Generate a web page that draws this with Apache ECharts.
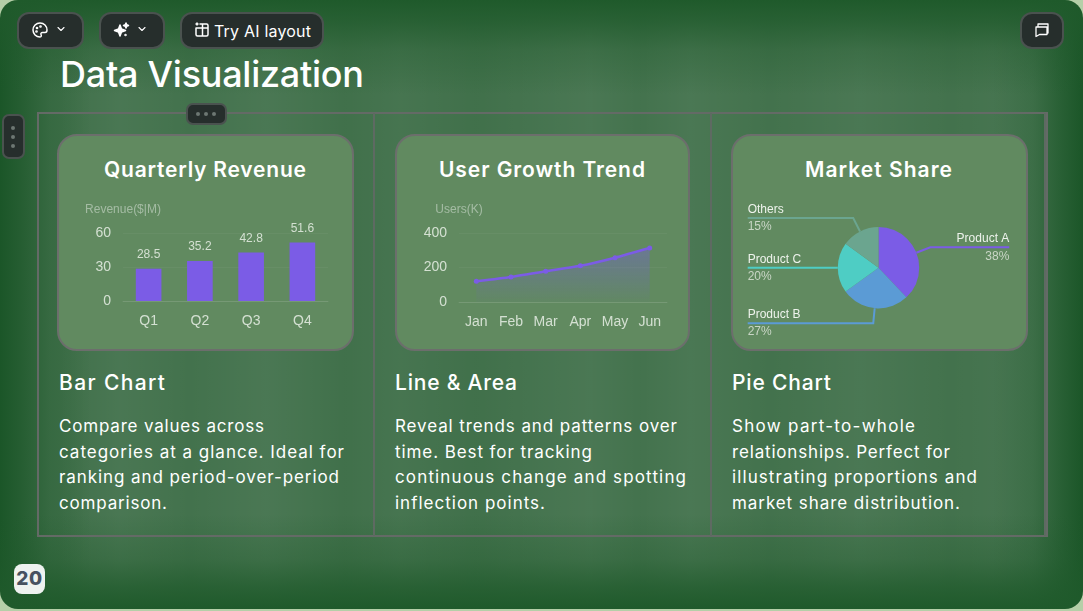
<!DOCTYPE html>
<html><head><meta charset="utf-8">
<script src="https://cdn.jsdelivr.net/npm/echarts@6/dist/echarts.min.js"></script>
<style>
html,body{margin:0;padding:0;width:1083px;height:611px;overflow:hidden;background:#b5cfa8;font-family:Inter,"Open Sans",sans-serif;color:#fff}
#slide{position:absolute;left:0;top:0;width:1083px;height:609px;border-radius:18px;overflow:hidden;
background:
linear-gradient(to bottom,rgba(31,90,43,1) 0,rgba(31,90,43,.75) 22px,rgba(31,90,43,.32) 50px,rgba(31,90,43,0) 95px),
linear-gradient(to top,rgba(31,90,43,1) 0,rgba(31,90,43,.75) 22px,rgba(31,90,43,.32) 50px,rgba(31,90,43,0) 95px),
linear-gradient(to right,rgba(27,86,40,1) 0,rgba(27,86,40,.7) 22px,rgba(27,86,40,.25) 50px,rgba(27,86,40,0) 90px),
linear-gradient(to left,rgba(27,86,40,1) 0,rgba(27,86,40,.7) 22px,rgba(27,86,40,.25) 50px,rgba(27,86,40,0) 90px),
linear-gradient(to right,rgba(255,255,255,0) 60px,rgba(255,255,255,.05) 120px,rgba(255,255,255,.015) 190px,rgba(255,255,255,.055) 266px,rgba(255,255,255,.005) 345px,rgba(255,255,255,.035) 400px,rgba(255,255,255,.005) 476px,rgba(255,255,255,.055) 590px,rgba(255,255,255,.02) 640px,rgba(255,255,255,.055) 690px,rgba(255,255,255,.015) 770px,rgba(255,255,255,.055) 860px,rgba(255,255,255,.015) 950px,rgba(255,255,255,.04) 1010px),
#40704a;}
.line{position:absolute;white-space:nowrap;line-height:1}
.card{position:absolute;top:134px;height:213px;background:#618a60;border:2px solid #6c6e6c;border-radius:20px;box-sizing:content-box}
.chart{position:absolute;top:134px;height:217px}
.cell{position:absolute;box-sizing:border-box;border:0 solid #646a66}
.pill{position:absolute;top:12px;height:37px;background:#262e2c;border:2px solid #4a524f;border-radius:12px;box-sizing:border-box}
.pill svg{position:absolute;fill:none;stroke:#fff;stroke-width:1.5;stroke-linecap:round;stroke-linejoin:round}
.dot{position:absolute;width:4px;height:4px;border-radius:50%;background:#6d7773}
</style></head><body>
<div id="slide"></div>
<script>
// ---- data
const quarters = ['Q1','Q2','Q3','Q4'];
const revenue = [28.5,35.2,42.8,51.6];
const months = ['Jan','Feb','Mar','Apr','May','Jun'];
const users = [120,145,178,210,257,313];
const shareNames = ['Product A','Product B','Product C','Others'];
const shareValues = [38,27,20,15];
const shareColors = ['#7b5ce6','#5b9bd5','#4ecdc4','#6ba58f'];
const heading = 'Data Visualization';
const chartTitles = ['Quarterly Revenue','User Growth Trend','Market Share'];
const captions = ['Bar Chart','Line & Area','Pie Chart'];
const bodies = [
 ['Compare values across','categories at a glance. Ideal for','ranking and period-over-period','comparison.'],
 ['Reveal trends and patterns over','time. Best for tracking','continuous change and spotting','inflection points.'],
 ['Show part-to-whole','relationships. Perfect for','illustrating proportions and','market share distribution.']
];
// ---- layout
const slide = document.getElementById('slide');
function el(cls,css,html){const d=document.createElement('div');d.className=cls;d.style.cssText=css;if(html)d.innerHTML=html;slide.appendChild(d);return d;}
function text(str,x,yc,size,weight,target){
  const d=el('line',`left:${x}px;top:${yc-size/2}px;font-size:${size}px;font-weight:${weight}`);
  d.textContent=str;
  const w=d.getBoundingClientRect().width;
  d.style.letterSpacing=((target-w)/(str.length-1))+'px';
  return d;
}
// grid
el('cell','left:37px;top:112px;width:1011px;height:425px;border-width:2px');
el('cell','left:373px;top:113px;width:2px;height:423px;border-left-width:2px;border-color:#5e6a62');
el('cell','left:710px;top:113px;width:2px;height:423px;border-left-width:2px;border-color:#5e6a62');
el('cell','left:1044px;top:113px;width:2px;height:423px;border-left-width:2px;border-color:#5e6a62');
// cards
const cardX=[[57,297],[395,295],[731,297]];
cardX.forEach(c=>el('card',`left:${c[0]}px;width:${c[1]-4}px`));
// toolbar
el('pill','left:17px;width:67px',`<svg style="left:12px;top:7px" width="18" height="18" viewBox="0 0 18 18"><path d="M9 2a7 7 0 1 0 0 14c1.500 0 1.500-1.500 1-2.500s.3-2 1.500-2H14c1.500 0 2-1 2-2.500C16 5 13 2 9 2z"/><circle cx="6" cy="7" r=".6"/><circle cx="9.500" cy="5.500" r=".6"/><circle cx="5.500" cy="10.500" r=".6"/></svg><svg style="left:36px;top:9px" width="12" height="12" viewBox="0 0 12 12"><path d="M3 4.500l3 3 3-3" stroke-width="1.100"/></svg>`);
el('pill','left:99px;width:66px',`<svg style="left:12px;top:7px" width="18" height="18" viewBox="0 0 18 18"><path fill="#fff" d="M7 4l1.500 4 4 1.500-4 1.500L7 15l-1.500-4-4-1.500 4-1.500z"/><path fill="#fff" d="M13 2l.7 1.800 1.800.7-1.800.7-.7 1.800-.7-1.800-1.800-.7 1.800-.7z"/><circle cx="12.500" cy="14" r=".5"/></svg><svg style="left:35px;top:9px" width="12" height="12" viewBox="0 0 12 12"><path d="M3 4.500l3 3 3-3" stroke-width="1.100"/></svg>`);
el('pill','left:180px;width:144px',`<svg style="left:11px;top:7px" width="18" height="18" viewBox="0 0 18 18"><path d="M7 3h6.500A1.500 1.500 0 0 1 15 4.500v9a1.500 1.500 0 0 1-1.500 1.500h-9A1.500 1.500 0 0 1 3 13.500V7h12M9.500 3v12M3 3h2M4 2v2"/></svg>`);
text('Try AI layout',214,31,16,400,97);
el('pill','left:1020px;width:44px',`<svg style="left:11px;top:8px" width="18" height="18" viewBox="0 0 18 18"><path d="M4 5V2h10v9h-1M2 5h11v7.500H5.500l-3.500 2z" transform="translate(1 0)" stroke-width="1.300"/></svg>`);
// handles
el('pill','left:2px;top:114px;width:23px;height:45px;border-radius:7px');
el('pill','left:186px;top:103px;width:41px;height:22px;border-radius:7px');
[128,137,146].forEach(y=>el('dot',`left:11px;top:${y-2}px`));
[198,206,214].forEach(x=>el('dot',`left:${x-2}px;top:112px`));
// page number
const pn=el('line','left:14px;top:564px;width:31px;height:30px;line-height:30px;text-align:center;background:#eef2f0;border-radius:8px;font-size:19px;font-weight:800;color:#475160;letter-spacing:.5px');
pn.textContent='20';
// texts
text(heading,60,74,36,500,304);
const titleSpan=[[104,202],[439,206],[805,147]];
chartTitles.forEach((t,i)=>text(t,titleSpan[i][0],169.5,21,600,titleSpan[i][1]));
const capSpan=[[59,106],[395,122],[732,99]];
captions.forEach((t,i)=>text(t,capSpan[i][0],382.5,21,500,capSpan[i][1]));
const bodyX=[59,395,732];
const bodyW=[[205,285,280,108],[282,197,291,150],[183,218,245,228]];
const bodyY=[426,452,477,503];
bodies.forEach((col,i)=>col.forEach((t,j)=>text(t,bodyX[i],bodyY[j],17,400,bodyW[i][j])));
// charts
const FF='Liberation Sans, Arial, sans-serif';
const axisLab={color:'#d4e0d2',fontSize:14,fontFamily:FF};
const nameStyle={color:'rgba(255,255,255,.42)',fontSize:12,fontFamily:FF};
const split={show:true,lineStyle:{color:'rgba(255,255,255,.04)',width:1}};
function mk(x,w){const d=el('chart',`left:${x}px;width:${w}px`);return echarts.init(d,null,{renderer:'canvas'});}
const ax={axisLine:{show:true,lineStyle:{color:'rgba(255,255,255,.1)'}},axisTick:{show:false},axisLabel:{...axisLab,margin:13}};
mk(57,297).setOption({animation:false,
 grid:{left:66,right:26,top:99,bottom:50},
 xAxis:{type:'category',data:quarters,...ax},
 yAxis:{type:'value',min:0,max:60,interval:30,name:'Revenue($|M)',nameGap:17,nameTextStyle:nameStyle,
   axisLine:{show:false},axisTick:{show:false},axisLabel:{...axisLab,margin:12},splitLine:split},
 series:[{type:'bar',data:revenue,barWidth:'50%',itemStyle:{color:'#7b5ce6'},
   label:{show:true,position:'top',distance:8,color:'#d4e0d2',fontSize:12,fontFamily:FF}}]
});
mk(395,296).setOption({animation:false,
 grid:{left:64,right:24,top:99,bottom:49},
 xAxis:{type:'category',data:months,...ax},
 yAxis:{type:'value',min:0,max:400,interval:200,name:'Users(K)',nameGap:17,nameTextStyle:nameStyle,
   axisLine:{show:false},axisTick:{show:false},axisLabel:{...axisLab,margin:12},splitLine:split},
 series:[{type:'line',data:users,smooth:.2,symbol:'circle',symbolSize:5,
   lineStyle:{color:'#7b5ce6',width:2.5},itemStyle:{color:'#7b5ce6'},
   areaStyle:{color:new echarts.graphic.LinearGradient(0,0,0,1,[{offset:0,color:'rgba(123,92,230,.55)'},{offset:1,color:'rgba(123,92,230,.04)'}])}}]
});
const pie=mk(733,291);
pie.setOption({animation:false,
 series:[{type:'pie',center:[145.5,133.7],radius:[0,40.7],startAngle:90,
   data:shareNames.map((n,i)=>({name:n,value:shareValues[i],itemStyle:{color:shareColors[i]}})),
   label:{alignTo:'edge',edgeDistance:14.7,minMargin:5,formatter:'{n|{b}}\n{p|{d}%}',
     rich:{n:{color:'#eef3ec',fontSize:12,lineHeight:18,fontFamily:FF},
           p:{color:'#c9d6c6',fontSize:12,lineHeight:17,fontFamily:FF}}},
   labelLine:{length:15,length2:0,maxSurfaceAngle:80,lineStyle:{width:2}},
   labelLayout:function(params){
     const isLeft=params.labelRect.x<pie.getWidth()/2;
     const pts=params.labelLinePoints;
     pts[2][0]=isLeft?params.labelRect.x:params.labelRect.x+params.labelRect.width;
     return {labelLinePoints:pts};
   }}]
});
</script>
</body></html>
